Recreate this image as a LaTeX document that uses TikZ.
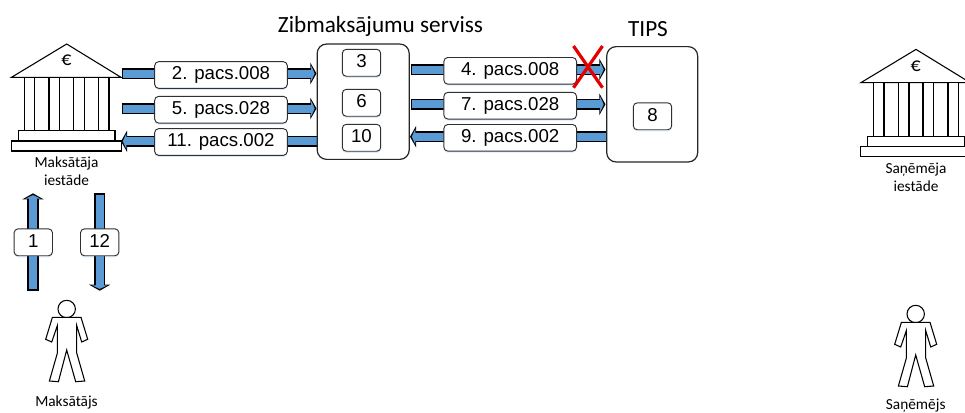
\documentclass[tikz,border=0pt]{standalone}
\usepackage{fontspec}
\setmainfont{Liberation Sans}
\newfontfamily\carl{Carlito}
\usetikzlibrary{arrows.meta,shadows}
\definecolor{flowblue}{HTML}{5B9BD5}
\definecolor{edgegray}{HTML}{303030}
\tikzset{
  softshadow/.style={drop shadow={shadow xshift=0pt,shadow yshift=-1.2pt,fill=flowblue,opacity=.22}},
  tag/.style={draw=edgegray,line width=.7pt,rounded corners=3pt,fill=white,softshadow,inner sep=0pt,font=\fontsize{14}{14}\selectfont},
  msgbox/.style={tag,minimum width=99.5pt,minimum height=20pt},
  numbox/.style={tag,minimum width=28.8pt,minimum height=20.2pt,text depth=2.2pt},
  service/.style={draw=black!85,line width=.9pt,rounded corners=7pt,fill=white,inner sep=0pt},
  flowouter/.style={line width=8.6pt,draw=black,-{Triangle[length=4.6pt,width=16pt]}},
  flowinner/.style={line width=6pt,draw=flowblue,shorten >=1.4pt,shorten <=1pt,-{Triangle[length=2.6pt,width=11.5pt,fill=flowblue]}},
  icon/.style={draw=black,line width=.8pt,fill=white,line join=miter},
  small/.style={font=\carl\fontsize{11.5}{13.6}\selectfont,align=center,inner sep=0pt},
  heading/.style={font=\carl\fontsize{17.4}{18}\selectfont,inner sep=0pt},
  crossmark/.style={draw=red!90!black,line width=2.4pt}
}
\newcommand\flowarrow[2]{\draw[flowouter] (#1) -- (#2);\draw[flowinner] (#1) -- (#2);}
\newcommand\bankicon[2]{%
  \begin{scope}[shift={(#1,#2)}]
    \draw[icon] (11.5,77.3) -- (66.7,44) -- (121,77.3) -- cycle;
    \node[inner sep=0pt,font=\carl\fontsize{15}{15}\selectfont] at (66.4,60.7) {€};
    \foreach \xa/\xb in {24.3/34.7,49/59.7,73.7/84.3,98.7/109}
      \draw[icon] (\xa,77.3) rectangle (\xb,130.7);
    \draw[icon] (18.3,130.7) rectangle (115,141);
    \draw[icon] (11.5,141) rectangle (121.5,151);
  \end{scope}}
\newcommand\personicon[2]{%
  \begin{scope}[shift={(#1,#2)}]
    \draw[icon] (66.7,309) circle (8.7);
    \draw[icon] (52.4,317.3) -- (45.7,339.3) -- (51.7,342) -- (57.4,325.5) -- (57.4,353) -- (49.4,381) -- (58.4,381.7) -- (66.7,350) -- (75.7,381.7) -- (84.7,381) -- (76.7,353) -- (76.7,325.5) -- (81.7,342) -- (87.7,339.3) -- (81,317.3) -- cycle;
  \end{scope}}
\begin{document}
\begin{tikzpicture}[x=.75pt,y=-.75pt]
\useasboundingbox (0,0) rectangle (965,412);
\clip (0,0) rectangle (965,412);
% connector ends
\coordinate (pay2a) at (121.5,73.5);  \coordinate (pay2b) at (316.5,73.5);
\coordinate (pay5a) at (121.5,108.5); \coordinate (pay5b) at (316.5,108.5);
\coordinate (pay11a) at (318,141.3);  \coordinate (pay11b) at (121,141.3);
\coordinate (tip4a) at (410.7,69.5);  \coordinate (tip4b) at (605.5,69.5);
\coordinate (tip7a) at (410.7,104.3); \coordinate (tip7b) at (605.5,104.3);
\coordinate (tip9a) at (607,136.7);   \coordinate (tip9b) at (410,136.7);
\coordinate (up1a) at (33,290.7);     \coordinate (up1b) at (33,193.3);
\coordinate (dn12a) at (99.7,193.3);  \coordinate (dn12b) at (99.7,290.7);
\coordinate (crossa) at (573.5,46);   \coordinate (crossb) at (602.5,87.7);
\coordinate (crossc) at (602.5,46);   \coordinate (crossd) at (573.5,87.7);
\flowarrow{pay2a}{pay2b}
\flowarrow{pay5a}{pay5b}
\flowarrow{pay11a}{pay11b}
\flowarrow{tip4a}{tip4b}
\flowarrow{tip7a}{tip7b}
\flowarrow{tip9a}{tip9b}
\flowarrow{up1a}{up1b}
\flowarrow{dn12a}{dn12b}
% icons
\bankicon{0}{0}
\bankicon{849.3}{5.4}
\personicon{0}{0}
\personicon{849}{5}
% service boxes
\node[service,minimum width=69pt,minimum height=86.5pt] (zib) at (363.2,101.7) {};
\node[service,minimum width=68.2pt,minimum height=86.5pt] (tips) at (652.2,104.3) {};
% message labels
\node[msgbox] (m2) at (221,75) {2. pacs.008};
\node[msgbox] (m5) at (221,109.7) {5. pacs.028};
\node[msgbox] (m11) at (221,142) {11. pacs.002};
\node[msgbox] (m4) at (510.2,70.8) {4. pacs.008};
\node[msgbox] (m7) at (510.2,105.7) {7. pacs.028};
\node[msgbox] (m9) at (510.2,137.8) {9. pacs.002};
% step numbers
\node[numbox] (s3) at (361.5,62.8) {3};
\node[numbox] (s6) at (361.5,102.8) {6};
\node[numbox] (s10) at (361.5,137.8) {10};
\node[numbox] (s8) at (652.5,116.3) {8};
\node[numbox] (s1) at (33.3,242.3) {1};
\node[numbox] (s12) at (99.7,242.3) {12};
% cross
\draw[crossmark] (crossa) -- (crossb);
\draw[crossmark] (crossc) -- (crossd);
% labels
\node[heading] (t1) at (380.5,26.5) {Zibmaksājumu serviss};
\node[heading] (t2) at (648,29) {TIPS};
\node[small] (l1) at (66.5,171.5) {Maksātāja\\iestāde};
\node[small] (l2) at (916,177) {Saņēmēja\\iestāde};
\node[small] (l3) at (66.5,402) {Maksātājs};
\node[small] (l4) at (915.7,405.5) {Saņēmējs};
\end{tikzpicture}
\end{document}
